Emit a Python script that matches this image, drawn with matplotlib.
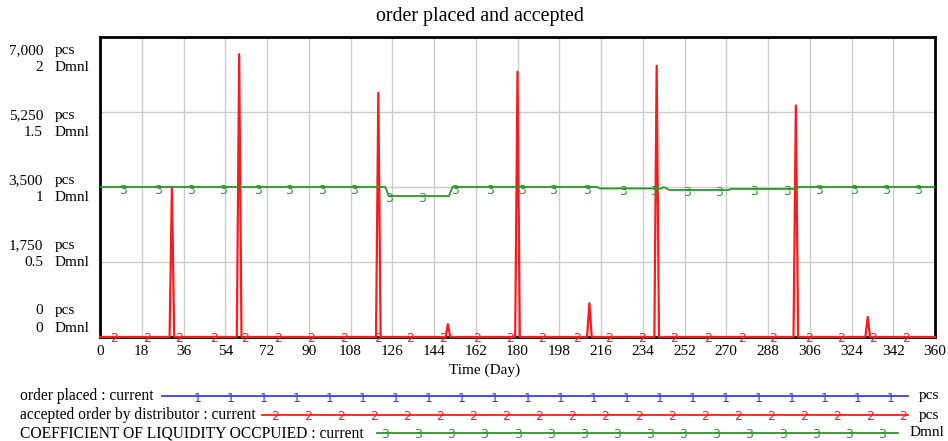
import numpy as np
import matplotlib
matplotlib.use("Agg")
import matplotlib.pyplot as plt
from matplotlib.lines import Line2D

# ---------------- data ----------------
title = "order placed and accepted"
x_label = "Time (Day)"
x_ticks = list(range(0, 361, 18))
pcs_ticks = [0, 1750, 3500, 5250, 7000]
pcs_tick_labels = ["0", "1,750", "3,500", "5,250", "7,000"]
dmnl_tick_labels = ["0", "0.5", "1", "1.5", "2"]

days = np.arange(0, 361, 1)
# spikes of orders (day, pcs)
spike_days = [31, 60, 120, 150, 180, 211, 240, 300, 331]
spike_values = [3500, 6600, 5700, 300, 6190, 790, 6330, 5400, 470]

# coefficient of liquidity occupied (piecewise readings)
coef_days = [0, 123, 124.5, 150.5, 152, 214.5, 215.5, 242, 243, 245.5, 271, 272, 300.5, 301, 360]
coef_vals = [1.0, 1.0, 0.94, 0.94, 1.0, 1.0, 0.99, 0.99, 1.0, 0.98, 0.98, 0.987, 0.987, 1.0, 1.0]

# day positions of the series identification digits on the chart
red_mark_days = [6.0, 20.3, 34.1, 49.2, 62.5, 76.7, 90.9, 105.2, 119.8, 133.6, 147.8, 162.5,
                 176.8, 190.6, 205.7, 219.5, 233.7, 247.5, 262.2, 276.8, 290.2, 305.7, 319.5,
                 333.3, 347.5]
green_mark_days = [9.9, 25.0, 39.2, 53.0, 68.1, 81.5, 95.7, 109.5, 124.6, 138.8, 153.1, 168.2,
                   182.0, 195.3, 210.0, 225.5, 238.9, 253.1, 266.9, 282.0, 296.3, 310.1, 325.2,
                   338.9, 352.7]

series_names = ["order placed : current",
                "accepted order by distributor : current",
                "COEFFICIENT OF LIQUIDITY OCCPUIED : current"]
series_units = ["pcs", "pcs", "Dmnl"]

accepted = np.zeros(len(days))
for d, v in zip(spike_days, spike_values):
    accepted[d] = v
placed = accepted.copy()

# ---------------- style ----------------
BLUE = "#3a3aff"
RED = "#ff1a1a"
GREEN = "#2a962a"
SERIF = "Liberation Serif"
plt.rcParams["font.family"] = [SERIF, "DejaVu Serif"]

W, H = 948, 441
fig = plt.figure(figsize=(W / 100, H / 100), dpi=100)
L, R, T, B = 100, 935, 37, 337
ax = fig.add_axes([L / W, 1 - B / H, (R - L) / W, (B - T) / H])
ax.set_xlim(0, 360)
ax.set_ylim(0, 7000)
ax.set_xticks(x_ticks)
ax.set_yticks(pcs_ticks)
ax.grid(True, color="#cccccc", lw=1)
ax.set_axisbelow(True)
ax.tick_params(axis="both", length=0)
ax.set_yticklabels([])
ax.set_xticklabels([str(t) for t in x_ticks], fontsize=11)
ax.tick_params(axis="x", pad=6)
for s in ax.spines.values():
    s.set_linewidth(2)
    s.set_color("black")

ax2 = ax.twinx()
ax2.set_ylim(0, 2)
ax2.set_yticks([])
for s in ax2.spines.values():
    s.set_visible(False)

# lines (order placed coincides with accepted order and is hidden beneath it)
ax.plot(days, placed, color=BLUE, lw=0.5, zorder=3, clip_on=False)
ax.plot(days, accepted, color=RED, lw=1.6, zorder=4, clip_on=False)
ax2.plot(coef_days, coef_vals, color=GREEN, lw=1.3, zorder=3)

# markers as digits (placed on the series' daily value)
mk_font = dict(family="DejaVu Sans", fontsize=9, ha="center", va="center")
for xm in red_mark_days:
    ax.text(xm, accepted[int(xm)] - 35, "2", color=RED, zorder=6,
            clip_on=False, **mk_font)
for xm in green_mark_days:
    ax2.text(xm, np.interp(xm, coef_days, coef_vals) - 0.02, "3", color=GREEN,
             zorder=6, **mk_font)

# y tick label pairs (Vensim-style)
for i in range(5):
    frac = (1 - 22 / 300) - (4 - i) * (65.1 / 300)
    ax.text(-57 / (R - L), frac + 8.7 / 300, pcs_tick_labels[i], transform=ax.transAxes,
            ha="right", va="center", fontsize=11)
    ax.text(-45 / (R - L), frac + 8.7 / 300, "pcs", transform=ax.transAxes,
            ha="left", va="center", fontsize=11)
    ax.text(-57 / (R - L), frac - 8.7 / 300, dmnl_tick_labels[i], transform=ax.transAxes,
            ha="right", va="center", fontsize=11)
    ax.text(-45 / (R - L), frac - 8.7 / 300, "Dmnl", transform=ax.transAxes,
            ha="left", va="center", fontsize=11)

fig.text(480 / W, 1 - 17 / H, title, ha="center", va="center", fontsize=14.3)
fig.text(485 / W, 1 - 370 / H, x_label, ha="center", va="center", fontsize=11)

# legend
rows_y = [396, 415, 433]
line_x0 = [162, 262, 377]
line_x1 = [908, 908, 898]
mark_first = [198, 275, 385]
mark_last = [891, 903, 882]
mark_count = [22, 20, 16]
colors = [BLUE, RED, GREEN]
digits = ["1", "2", "3"]
unit_x = [929, 929, 927]
for k in range(3):
    yy = 1 - rows_y[k] / H
    fig.text(20 / W, yy, series_names[k], ha="left", va="center", fontsize=11.2)
    fig.add_artist(Line2D([line_x0[k] / W, line_x1[k] / W], [yy, yy], color=colors[k], lw=1.3,
                          transform=fig.transFigure))
    for xm in np.linspace(mark_first[k], mark_last[k], mark_count[k]):
        fig.text(xm / W, yy - 2 / H, digits[k], color=colors[k], family="DejaVu Sans",
                 fontsize=9, ha="center", va="center")
    fig.text(unit_x[k] / W, yy, series_units[k], ha="center", va="center", fontsize=11)

fig.savefig("out.png", dpi=100)
